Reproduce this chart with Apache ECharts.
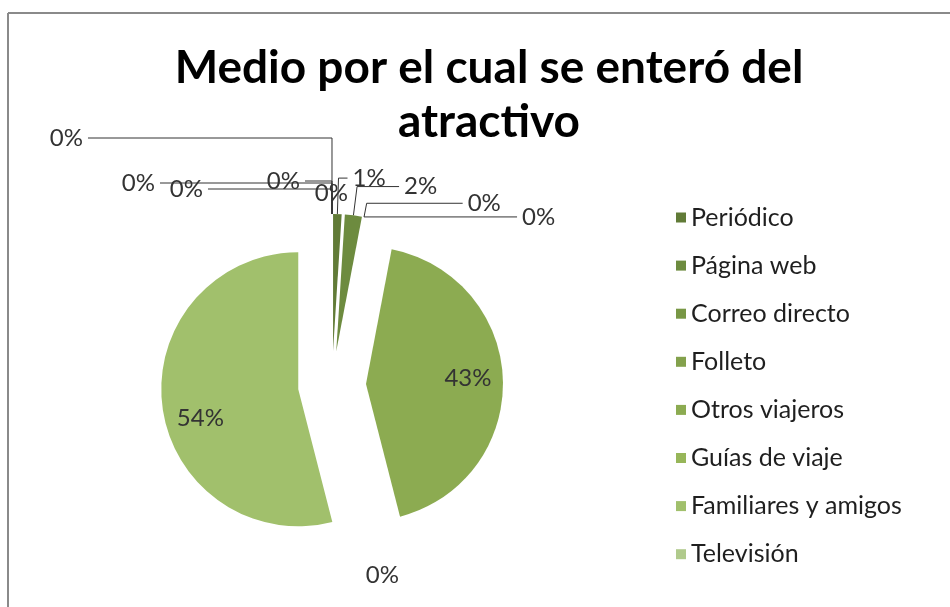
<!DOCTYPE html>
<html>
<head>
<meta charset="utf-8">
<script src="https://cdn.jsdelivr.net/npm/echarts@6/dist/echarts.min.js"></script>
<style>
  html, body { margin: 0; padding: 0; background: #fff; }
  #chart { width: 950px; height: 607px; }
</style>
</head>
<body>
<div id="chart"></div>
<script>
// ---- data ----
const titleText = 'Medio por el cual se enteró del\natractivo';
const categories = ['Periódico', 'Página web', 'Correo directo', 'Folleto', 'Otros viajeros',
  'Guías de viaje', 'Familiares y amigos', 'Televisión', 'Otro 9', 'Otro 10', 'Otro 11', 'Otro 12'];
const legendShown = ['Periódico', 'Página web', 'Correo directo', 'Folleto', 'Otros viajeros',
  'Guías de viaje', 'Familiares y amigos', 'Televisión'];
const values = [1, 2, 0, 0, 43, 0, 54, 0, 0, 0, 0, 0];

// ---- styles ----
const palette = ['#617b37', '#6d8b3f', '#789745', '#83a14c', '#8cab51', '#97b659',
  '#a1c06c', '#b0ca8c', '#b9d09a', '#c2d6a8', '#cbdcb6', '#d4e2c4'];
// per-item label tuning: [length, length2, distance, showLine]
const labelTuning = [
  [36, 9, 5, true],
  [29, 42, 5, true],
  [14, 96, 5, true],
  [0.1, 153, 5, true],
  null,
  [25, 0, -15, false],
  null,
  [21, 0, -16, true],
  [33, 27, 5, true],
  [25, 124, 5, true],
  [31, 172, 5, true],
  [76, 244, 5, true]
];
// inside labels: horizontal padding shift, blank-line vertical shift
const insideTuning = {
  4: { padding: [0, 0, 0, 61], before: false, lineHeight: 6 },
  6: { padding: [0, 54, 0, 0], before: true, lineHeight: 40 }
};

const font = 'Lato, "Liberation Sans", sans-serif';
const pct = p => Math.round(p.percent) + '%';

const seriesData = categories.map((name, i) => {
  const item = {
    name: name,
    value: values[i],
    selected: true,
    itemStyle: { color: palette[i] }
  };
  const t = labelTuning[i];
  if (t) {
    item.label = { position: 'outside', distanceToLabelLine: t[2] };
    item.labelLine = { show: t[3], length: t[0], length2: t[1] };
  } else {
    const it = insideTuning[i];
    item.label = {
      position: 'inside',
      padding: it.padding,
      lineHeight: it.lineHeight,
      formatter: p => it.before ? '\n' + pct(p) : pct(p) + '\n'
    };
    item.labelLine = { show: false };
  }
  return item;
});

const chart = echarts.init(document.getElementById('chart'), null, { renderer: 'canvas' });
chart.setOption({
  animation: false,
  backgroundColor: '#ffffff',
  title: {
    text: titleText,
    left: 489,
    top: 41,
    padding: 0,
    textAlign: 'center',
    textStyle: { fontFamily: font, fontSize: 46, fontWeight: 'bold', color: '#000', lineHeight: 54 }
  },
  legend: {
    data: legendShown,
    orient: 'vertical',
    left: 671,
    top: 200,
    icon: 'rect',
    itemWidth: 10,
    itemHeight: 10,
    itemGap: 23.1,
    selectedMode: false,
    textStyle: { fontFamily: font, fontSize: 25, color: '#1f1f1f', lineHeight: 24 }
  },
  graphic: [
    { type: 'line', shape: { x1: 8, y1: 13, x2: 950, y2: 13 }, style: { stroke: '#8a8a8a', lineWidth: 2 } },
    { type: 'line', shape: { x1: 8, y1: 13, x2: 8, y2: 607 }, style: { stroke: '#8a8a8a', lineWidth: 2 } }
  ],
  series: [{
    type: 'pie',
    center: [332, 385],
    radius: 137,
    startAngle: 90.0001,
    clockwise: true,
    selectedMode: 'multiple',
    selectedOffset: 34,
    avoidLabelOverlap: false,
    minShowLabelAngle: 0,
    emphasis: { disabled: true },
    label: {
      show: true,
      fontFamily: font,
      fontSize: 24,
      color: '#333',
      formatter: pct
    },
    labelLine: { lineStyle: { color: '#333', width: 1 } },
    itemStyle: { borderWidth: 0 },
    data: seriesData
  }]
});
</script>
</body>
</html>
